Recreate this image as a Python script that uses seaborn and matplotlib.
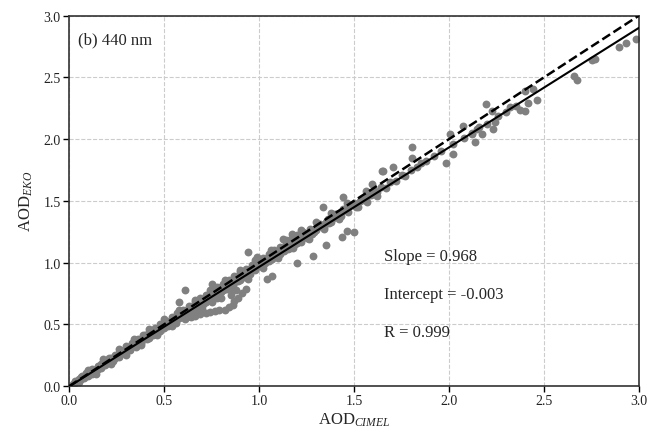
import matplotlib
matplotlib.use("Agg")
import matplotlib.pyplot as plt
import seaborn as sns
import pandas as pd

# --- Data ---

# main band along the 1:1 line
band_x = [0.02, 0.03, 0.04, 0.05, 0.05, 0.06, 0.07, 0.07, 0.08, 0.09, 0.10, 0.10,
          0.11, 0.12, 0.12, 0.13, 0.14, 0.15, 0.15, 0.16, 0.17, 0.17, 0.18, 0.19,
          0.19, 0.20, 0.20, 0.21, 0.22, 0.22, 0.23, 0.24, 0.24, 0.25, 0.26, 0.26,
          0.27, 0.28, 0.28, 0.29, 0.30, 0.30, 0.31, 0.32, 0.32, 0.33, 0.34, 0.34,
          0.35, 0.36, 0.36, 0.37, 0.38, 0.38, 0.39, 0.40, 0.40, 0.41, 0.42, 0.42,
          0.43, 0.44, 0.44, 0.45, 0.46, 0.46, 0.47, 0.48, 0.48, 0.49, 0.50, 0.50,
          0.51, 0.52, 0.52, 0.53, 0.54, 0.54, 0.55, 0.56, 0.56, 0.57, 0.58, 0.58,
          0.59, 0.60, 0.60, 0.61, 0.62, 0.62, 0.63, 0.64, 0.64, 0.65, 0.66, 0.66,
          0.67, 0.68, 0.68, 0.69, 0.70, 0.70, 0.71, 0.72, 0.72, 0.73, 0.74, 0.74,
          0.75, 0.76, 0.76, 0.77, 0.78, 0.78, 0.79, 0.80, 0.80, 0.81, 0.82, 0.82,
          0.83, 0.84, 0.85, 0.85, 0.86, 0.87, 0.88, 0.88, 0.89, 0.90, 0.90, 0.91,
          0.92, 0.92, 0.93, 0.94, 0.95, 0.95, 0.96, 0.97, 0.98, 0.99, 1.00, 1.00,
          1.01, 1.02, 1.03, 1.04, 1.05, 1.06, 1.07, 1.08, 1.09, 1.10, 1.11, 1.12,
          1.13, 1.14, 1.15, 1.16, 1.18, 1.19, 1.20, 1.21, 1.22, 1.24, 1.25, 1.26,
          1.28, 1.30, 1.31, 1.33, 1.35, 1.37, 1.39, 1.41, 1.43, 1.45, 1.47, 1.49,
          1.51, 1.53, 1.56, 1.57, 1.59, 1.62, 1.64, 1.67, 1.69, 1.72, 1.75, 1.77,
          1.80, 1.83, 1.85, 1.88, 1.92, 1.96, 2.02, 2.08, 2.12, 2.16, 2.20, 2.26,
          2.30, 2.35]
band_y = [0.02, 0.025, 0.04, 0.045, 0.055, 0.06, 0.065, 0.08, 0.075, 0.09, 0.095, 0.085,
          0.11, 0.115, 0.10, 0.13, 0.13, 0.15, 0.135, 0.16, 0.165, 0.18, 0.17, 0.19,
          0.175, 0.20, 0.21, 0.20, 0.215, 0.23, 0.22, 0.24, 0.225, 0.25, 0.25, 0.27,
          0.26, 0.28, 0.265, 0.29, 0.29, 0.31, 0.30, 0.32, 0.30, 0.33, 0.33, 0.35,
          0.34, 0.36, 0.33, 0.36, 0.38, 0.36, 0.39, 0.39, 0.41, 0.40, 0.42, 0.39,
          0.42, 0.44, 0.42, 0.44, 0.46, 0.43, 0.46, 0.48, 0.45, 0.48, 0.50, 0.47,
          0.50, 0.52, 0.49, 0.52, 0.54, 0.51, 0.54, 0.56, 0.53, 0.55, 0.58, 0.55,
          0.57, 0.60, 0.57, 0.59, 0.62, 0.58, 0.61, 0.64, 0.60, 0.63, 0.66, 0.62,
          0.65, 0.68, 0.64, 0.67, 0.70, 0.66, 0.69, 0.72, 0.68, 0.70, 0.74, 0.70,
          0.72, 0.76, 0.73, 0.75, 0.78, 0.74, 0.77, 0.80, 0.76, 0.78, 0.82, 0.79,
          0.80, 0.83, 0.84, 0.81, 0.86, 0.84, 0.88, 0.85, 0.87, 0.90, 0.86, 0.89,
          0.92, 0.88, 0.91, 0.93, 0.95, 0.91, 0.94, 0.97, 0.95, 0.99, 0.97, 1.00,
          0.98, 1.02, 1.00, 1.04, 1.01, 1.05, 1.03, 1.08, 1.05, 1.09, 1.07, 1.12,
          1.09, 1.12, 1.11, 1.15, 1.14, 1.18, 1.16, 1.19, 1.17, 1.22, 1.20, 1.24,
          1.23, 1.26, 1.29, 1.30, 1.33, 1.32, 1.36, 1.39, 1.38, 1.43, 1.41, 1.47,
          1.45, 1.50, 1.52, 1.49, 1.55, 1.57, 1.61, 1.60, 1.65, 1.66, 1.71, 1.70,
          1.75, 1.77, 1.81, 1.82, 1.86, 1.90, 1.96, 2.01, 2.05, 2.10, 2.12, 2.19,
          2.22, 2.27]

# outer edges of the band (above / below the line)
edge_x = [0.03, 0.05, 0.06, 0.08, 0.09, 0.11, 0.12, 0.14, 0.15, 0.17, 0.18, 0.20,
          0.21, 0.23, 0.24, 0.26, 0.27, 0.29, 0.30, 0.32, 0.33, 0.35, 0.36, 0.38,
          0.39, 0.41, 0.42, 0.44, 0.45, 0.47, 0.48, 0.50, 0.51, 0.53, 0.54, 0.56,
          0.57, 0.59, 0.60, 0.62, 0.63, 0.65, 0.66, 0.68, 0.69, 0.71, 0.72, 0.74,
          0.75, 0.77, 0.78, 0.80, 0.81, 0.83, 0.84, 0.86, 0.87, 0.89, 0.90, 0.92,
          0.93, 0.95, 0.96, 0.98, 0.99, 1.01, 1.02, 1.04, 1.05, 1.07, 1.08, 1.10,
          1.11, 1.13, 1.14, 1.16, 1.17, 1.19, 1.20, 1.22, 1.23, 1.25, 1.27, 1.29,
          1.32, 1.34, 1.36, 1.38, 1.40, 1.42, 1.44, 1.46, 1.48, 1.50, 1.54, 1.58,
          1.61]
edge_y = [0.04, 0.035, 0.075, 0.065, 0.105, 0.095, 0.135, 0.12, 0.165, 0.15, 0.195, 0.185,
          0.225, 0.205, 0.255, 0.235, 0.285, 0.27, 0.325, 0.29, 0.35, 0.32, 0.38, 0.35,
          0.41, 0.38, 0.44, 0.41, 0.47, 0.44, 0.50, 0.48, 0.53, 0.50, 0.56, 0.54,
          0.59, 0.56, 0.62, 0.60, 0.65, 0.61, 0.68, 0.66, 0.71, 0.67, 0.74, 0.72,
          0.77, 0.73, 0.80, 0.78, 0.83, 0.79, 0.86, 0.82, 0.89, 0.85, 0.92, 0.90,
          0.95, 0.93, 0.98, 0.94, 1.01, 1.00, 1.04, 1.01, 1.07, 1.05, 1.10, 1.06,
          1.13, 1.11, 1.16, 1.12, 1.19, 1.15, 1.22, 1.20, 1.25, 1.22, 1.27, 1.25,
          1.31, 1.29, 1.35, 1.33, 1.39, 1.40, 1.43, 1.44, 1.47, 1.48, 1.51, 1.56,
          1.58]

# wider spread around the band
spread_x = [0.10, 0.14, 0.18, 0.22, 0.26, 0.30, 0.34, 0.38, 0.42, 0.46, 0.50, 0.54,
            0.58, 0.62, 0.66, 0.70, 0.74, 0.78, 0.82, 0.86, 0.90, 0.94, 0.98, 1.02,
            1.06, 1.10, 1.14, 1.18, 1.22, 1.26, 1.30, 1.34, 1.38, 1.42, 1.46, 1.52,
            1.56, 1.62]
spread_y = [0.13, 0.10, 0.22, 0.18, 0.30, 0.25, 0.38, 0.33, 0.46, 0.41, 0.54, 0.49,
            0.62, 0.56, 0.70, 0.62, 0.78, 0.71, 0.86, 0.79, 0.94, 0.87, 1.02, 0.96,
            1.10, 1.04, 1.18, 1.12, 1.26, 1.19, 1.33, 1.27, 1.40, 1.35, 1.48, 1.45,
            1.58, 1.54]

# branch below the line around 0.6-0.9
lower_x = [0.56, 0.61, 0.64, 0.66, 0.69, 0.72, 0.74, 0.77, 0.79, 0.82, 0.84, 0.86,
           0.87, 0.89, 0.91, 0.93, 0.70, 0.75, 0.80, 0.85, 0.88]
lower_y = [0.51, 0.54, 0.56, 0.57, 0.58, 0.59, 0.60, 0.61, 0.62, 0.62, 0.64, 0.66,
           0.69, 0.71, 0.75, 0.79, 0.64, 0.68, 0.71, 0.74, 0.78]

# scattered points and high-AOD cases
high_x = [2.984, 2.93, 2.896, 2.768, 2.75, 2.672, 2.66, 2.465, 2.444, 2.397, 2.397,
          2.374, 2.414, 2.318, 2.195, 2.225, 2.242, 2.233, 2.172, 2.137, 2.146, 2.075,
          2.119, 2.005, 2.019, 1.984, 1.804, 1.804, 1.703, 1.651, 1.646, 1.593, 1.444,
          1.335, 1.461, 1.435, 1.353, 1.286, 1.172, 1.128, 1.198, 0.988, 0.94, 1.067,
          0.61, 0.751, 0.58, 1.497, 1.04]
high_y = [2.81, 2.775, 2.747, 2.648, 2.64, 2.478, 2.512, 2.318, 2.405, 2.39, 2.23,
          2.235, 2.289, 2.256, 2.283, 2.229, 2.135, 2.081, 2.04, 1.973, 2.081, 2.108,
          2.04, 2.04, 1.879, 1.803, 1.933, 1.85, 1.771, 1.743, 1.743, 1.636, 1.528,
          1.447, 1.258, 1.204, 1.142, 1.055, 1.231, 1.19, 1.0, 1.042, 1.087, 0.893,
          0.78, 0.826, 0.678, 1.245, 0.866]

fit_slope = 0.968
fit_intercept = -0.003
fit_r = 0.999
panel_label = "(b) 440 nm"

df = pd.DataFrame({
    "cimel": band_x + edge_x + spread_x + lower_x + high_x,
    "eko": band_y + edge_y + spread_y + lower_y + high_y,
})

# --- Style ---
sns.set_theme(style="ticks")
plt.rcParams["font.family"] = ["Liberation Serif", "DejaVu Serif"]
plt.rcParams["mathtext.fontset"] = "custom"
plt.rcParams["mathtext.rm"] = "Liberation Serif"
plt.rcParams["mathtext.it"] = "Liberation Serif:italic"

fig = plt.figure(figsize=(6.65, 4.35), dpi=100)
ax = fig.add_axes([0.104, 0.110, 0.857, 0.852])

ax.grid(True, color="#cccccc", linestyle="--", linewidth=0.8)
ax.set_axisbelow(True)

sns.scatterplot(data=df, x="cimel", y="eko", ax=ax, color="#808080",
                s=32, linewidth=0, zorder=2)

# 1:1 line and fitted line
ax.axline((0, 0), slope=1, color="black", linestyle="--", linewidth=1.8, zorder=3)
ax.axline((0, fit_intercept), slope=fit_slope, color="black", linewidth=1.5, zorder=3)

ax.set_xlim(0, 3)
ax.set_ylim(0, 3)
ax.set_xticks([0.0, 0.5, 1.0, 1.5, 2.0, 2.5, 3.0])
ax.set_yticks([0.0, 0.5, 1.0, 1.5, 2.0, 2.5, 3.0])
ax.tick_params(labelsize=10, length=4, width=1, color="black", labelcolor="#222222", pad=2)
for sp in ax.spines.values():
    sp.set_color("#333333")
    sp.set_linewidth(1.2)

ax.set_xlabel(r"AOD$_{\mathit{CIMEL}}$", fontsize=12, labelpad=2)
ax.set_ylabel(r"AOD$_{\mathit{EKO}}$", fontsize=12, labelpad=6)

ax.text(0.015, 0.926, panel_label, transform=ax.transAxes, fontsize=12, va="baseline")
ax.text(0.553, 0.341, f"Slope = {fit_slope:.3f}", transform=ax.transAxes, fontsize=12, va="baseline")
ax.text(0.553, 0.237, f"Intercept = {fit_intercept:.3f}", transform=ax.transAxes, fontsize=12, va="baseline")
ax.text(0.553, 0.134, f"R = {fit_r:.3f}", transform=ax.transAxes, fontsize=12, va="baseline")

fig.savefig("out.png", dpi=100)
